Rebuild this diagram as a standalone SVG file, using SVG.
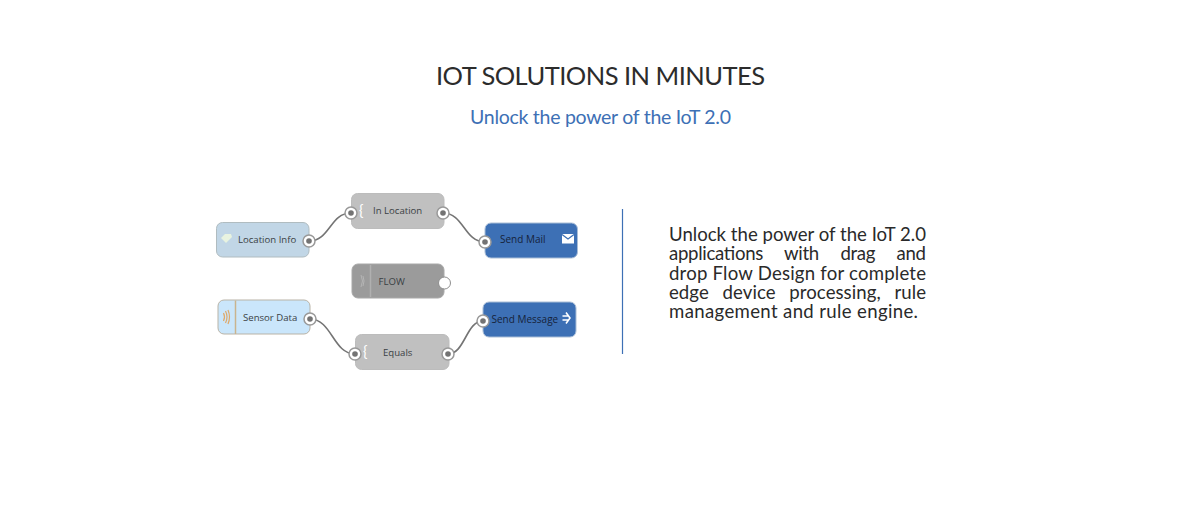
<svg xmlns="http://www.w3.org/2000/svg" width="1200" height="510" viewBox="0 0 1200 510">
<style>
text{font-family:"Lato","Open Sans","Liberation Sans",sans-serif}
.lbl{font-size:9.6px;fill:#3a3f44;font-family:"Open Sans","Liberation Sans",sans-serif}
.dk{fill:#16233a;font-size:10px}
.body{font-size:18.6px;fill:#2a2a2a}
.wire{fill:none;stroke:#747474;stroke-width:1.6}
.port{fill:#fff;stroke:#999;stroke-width:1.5}
.dot{fill:#737373}
.gray{fill:#c0c0c0;stroke:#bcbcbc}
.blue{fill:#3d70b5;stroke:#a9bdd6}
.ic{fill:none;stroke:#fff;stroke-width:1.600}
</style>
<rect width="1200" height="510" fill="#fff"/>
<text id="title" x="600.500" y="85" text-anchor="middle" font-size="25.500" fill="#2c2c2c" textLength="329">IOT SOLUTIONS IN MINUTES</text>
<text id="subtitle" x="600.500" y="124" text-anchor="middle" font-size="19.500" fill="#3d70b5" textLength="261">Unlock the power of the IoT 2.0</text>

<g id="connectors">
<path class="wire" d="M309 241C330 241 330 213 351 213"/>
<path class="wire" d="M443 213C464 213 464 242 485 242"/>
<path class="wire" d="M310 319C332 319 333 354 355 354"/>
<path class="wire" d="M448 354C465 354 466 321 483 321"/>
</g>

<g id="node-location-info">
<rect x="216.500" y="222.500" width="92.500" height="34.500" rx="6" fill="#c1d6e6" stroke="#b0bcc0"/>
<path d="M221 238l4-4h6l1 3-6 6z" fill="#e8f3e0"/>
<text class="lbl" x="238" y="243">Location Info</text>
<circle class="port" cx="309" cy="241" r="6"/><circle class="dot" cx="309" cy="241" r="2.800"/>
</g>
<g id="node-in-location">
<rect class="gray" x="351.500" y="193.500" width="92.500" height="35" rx="6"/>
<text x="359" y="216" font-size="15" fill="#fff">{</text>
<text class="lbl" x="373" y="214">In Location</text>
<circle class="port" cx="351" cy="213" r="6"/><circle class="dot" cx="351" cy="213" r="2.800"/>
<circle class="port" cx="443" cy="213" r="6"/><circle class="dot" cx="443" cy="213" r="2.800"/>
</g>
<g id="node-send-mail">
<rect class="blue" x="485" y="223" width="92.500" height="35" rx="6"/>
<text class="lbl dk" x="500" y="243">Send Mail</text>
<rect x="562" y="234" width="12" height="9.500" fill="#fff"/>
<path d="M562 234.500l6 4.500 6-4.500" fill="none" stroke="#3d70b5" stroke-width="1.200"/>
<circle class="port" cx="485" cy="242" r="6"/><circle class="dot" cx="485" cy="242" r="2.800"/>
</g>
<g id="node-flow">
<rect x="352" y="264" width="92" height="34" rx="6" fill="#9b9b9b" stroke="#a8a8a8"/>
<path d="M370.500 265v32" stroke="#b0b0b0" stroke-width="1.500"/>
<path d="M361 275q3 6 0 12M363 276q2 5 0 10" fill="none" stroke="#b5b5b5"/>
<text class="lbl" x="378.500" y="285">FLOW</text>
<circle cx="444.500" cy="283" r="6" fill="#fff" stroke="#8e8e8e"/>
</g>
<g id="node-sensor-data">
<rect x="218" y="300" width="92" height="34" rx="6" fill="#cae6fb" stroke="#b9b3a6"/>
<path d="M235.500 300.500v33.500" stroke="#c9b48f" stroke-width="1.500"/>
<path d="M223.500 313q2 4 0 8M225.500 311q3 6 0 12M228 310q3 7 0 14" fill="none" stroke="#dfa868" stroke-width="1.200"/>
<text class="lbl" x="243" y="321">Sensor Data</text>
<circle class="port" cx="310" cy="319" r="6"/><circle class="dot" cx="310" cy="319" r="2.800"/>
</g>
<g id="node-equals">
<rect class="gray" x="355.500" y="334.500" width="93.500" height="35" rx="6"/>
<text x="363" y="357" font-size="15" fill="#fff">{</text>
<text class="lbl" x="383" y="356">Equals</text>
<circle class="port" cx="355" cy="354" r="6"/><circle class="dot" cx="355" cy="354" r="2.800"/>
<circle class="port" cx="448" cy="354" r="6"/><circle class="dot" cx="448" cy="354" r="2.800"/>
</g>
<g id="node-send-message">
<rect class="blue" x="483" y="302" width="93" height="35" rx="6"/>
<text class="lbl dk" x="491.500" y="322.500">Send Message</text>
<path class="ic" d="M562.500 316h6M562.500 320h6M566 312.500l4 5.500-4 5.500"/>
<circle class="port" cx="483" cy="321" r="6"/><circle class="dot" cx="483" cy="321" r="2.800"/>
</g>

<path id="divider" d="M622.500 209v145" stroke="#3d70b5" stroke-width="1.200"/>
<g id="description">
<text class="body" x="669" y="241"><tspan x="669" y="241" textLength="257">Unlock the power of the IoT 2.0</tspan><tspan x="669" y="260" textLength="257" word-spacing="17">applications with drag and</tspan><tspan x="669" y="279.500" textLength="257">drop Flow Design for complete</tspan><tspan x="669" y="298.500" textLength="257" word-spacing="9">edge device processing, rule</tspan><tspan x="669" y="317.500" textLength="249">management and rule engine.</tspan></text>
</g>
</svg>
